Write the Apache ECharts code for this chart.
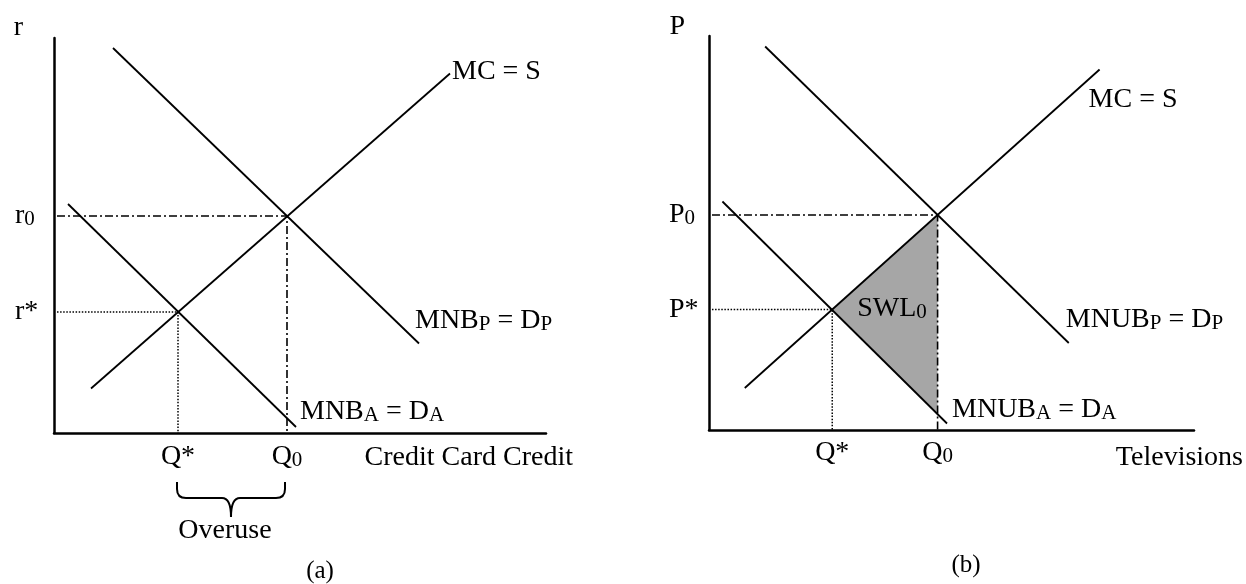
<!DOCTYPE html>
<html><head><meta charset="utf-8">
<script src="https://cdn.jsdelivr.net/npm/echarts@6/dist/echarts.min.js"></script>
<style>html,body{margin:0;padding:0;background:#fff}#c{width:1246px;height:584px}</style>
</head><body><div id="c"></div>
<script>
// ---------- Panel (a): credit card credit ----------
const A_MC = [[7.4, 8.9], [79.2, 71.9]];          // MC = S
const A_MNB_P = [[11.8, 77.0], [73.0, 17.9]];     // MNB_P = D_P
const A_MNB_A = [[2.8, 45.8], [48.4, 1.2]];       // MNB_A = D_A
const A_Q0 = 46.6, A_R0 = 43.4;
const A_QSTAR = 24.8, A_RSTAR = 24.2;
const A_XTICKS = ['Q*', 'Q{s|0}'];
const A_YTICKS = ['r*', 'r{s|0}'];
const A_CURVE_LABELS = ['MC = S', 'MNB{s|P} = D{s|P}', 'MNB{s|A} = D{s|A}'];

// ---------- Panel (b): televisions ----------
const B_MC = [[7.2, 8.4], [78.6, 72.1]];
const B_MNUB_P = [[11.3, 76.7], [72.4, 17.4]];
const B_MNUB_A = [[2.7, 45.7], [47.9, 1.3]];
const B_Q0 = 46.0, B_P0 = 43.0;
const B_QSTAR = 24.8, B_PSTAR = 24.1;
const B_SWL = [[24.8, 24.1], [46.0, 43.0], [46.0, 3.2]];
const B_XTICKS = ['Q*', 'Q{s|0}'];
const B_YTICKS = ['P*', 'P{s|0}'];
const B_CURVE_LABELS = ['MC = S', 'MNUB{s|P} = D{s|P}', 'MNUB{s|A} = D{s|A}'];

const FONT = '"Liberation Serif", "DejaVu Serif", serif';
const FS = 28;
const rich = {
  s: { fontSize: 21, fontFamily: FONT, color: '#000', verticalAlign: 'bottom', lineHeight: 22 }
};
const solid = { color: '#000', width: 1.8, type: 'solid' };
const dashDot = { color: '#000', width: 1.6, type: [8, 3, 2, 3] };
const dotted = { color: '#000', width: 1.5, type: [1.5, 1.6] };

function lineSeries(g, data, style, label, z) {
  const s = {
    type: 'line', xAxisIndex: g, yAxisIndex: g, data: data, symbol: 'none',
    lineStyle: style, silent: true, animation: false, z: z || 3, clip: false
  };
  if (label) {
    s.endLabel = Object.assign({
      show: true, distance: 0, color: '#000', fontFamily: FONT, fontSize: FS, rich: rich
    }, label);
  }
  return s;
}

function xAxisFor(g, max, ticks, vals, margin, name, gap, pad) {
  return {
    type: 'value', gridIndex: g, min: 0, max: max,
    axisLine: { show: true, onZero: false, lineStyle: { color: '#000', width: 2.5 } },
    axisTick: { show: false }, splitLine: { show: false },
    axisLabel: {
      show: true, customValues: vals,
      formatter: v => ticks[vals.indexOf(v)],
      margin: margin, color: '#000', fontFamily: FONT, fontSize: FS, rich: rich
    },
    name: name, nameLocation: 'end', nameGap: gap,
    nameTextStyle: { align: 'right', verticalAlign: 'top', padding: [pad, 0, 0, 0], color: '#000', fontFamily: FONT, fontSize: FS }
  };
}
function yAxisFor(g, max, ticks, vals, name, margin, gap, padR) {
  return {
    type: 'value', gridIndex: g, min: 0, max: max,
    axisLine: { show: true, onZero: false, lineStyle: { color: '#000', width: 2.5 } },
    axisTick: { show: false }, splitLine: { show: false },
    axisLabel: {
      show: true, customValues: vals,
      formatter: v => ticks[vals.indexOf(v)],
      margin: margin, align: 'left', color: '#000', fontFamily: FONT, fontSize: FS, rich: rich
    },
    name: name, nameLocation: 'end', nameGap: gap,
    nameTextStyle: { align: 'right', padding: [0, padR, 0, 0], color: '#000', fontFamily: FONT, fontSize: FS }
  };
}

const chart = echarts.init(document.getElementById('c'), null, { renderer: 'canvas' });
chart.setOption({
  animation: false,
  backgroundColor: '#fff',
  grid: [
    { left: 54, top: 38, width: 492, height: 395 },
    { left: 709, top: 36, width: 488, height: 394 }
  ],
  xAxis: [
    xAxisFor(0, 98.4, A_XTICKS, [A_QSTAR, A_Q0], 10, 'Credit Card Credit', 27, 11),
    xAxisFor(1, 97.6, B_XTICKS, [B_QSTAR, B_Q0], 9, 'Televisions', 49, 14)
  ],
  yAxis: [
    yAxisFor(0, 79, A_YTICKS, [A_RSTAR, A_R0], 'r', 39, -4, 31),
    yAxisFor(1, 78.8, B_YTICKS, [B_PSTAR, B_P0], 'P', 40, -5, 24)
  ],
  graphic: [
    { type: 'text', x: 320, y: 571, style: { text: '(a)', align: 'center', verticalAlign: 'middle', font: '25px ' + FONT, fill: '#000' } },
    { type: 'text', x: 966, y: 565, style: { text: '(b)', align: 'center', verticalAlign: 'middle', font: '25px ' + FONT, fill: '#000' } }
  ],
  series: [
    // panel (a)
    lineSeries(0, [[0.6, A_R0], [A_Q0, A_R0], [A_Q0, 0]], dashDot),
    lineSeries(0, [[0.6, A_RSTAR], [A_QSTAR, A_RSTAR], [A_QSTAR, 0]], dotted),
    lineSeries(0, A_MC, solid, { formatter: A_CURVE_LABELS[0], offset: [2, -2] }),
    lineSeries(0, A_MNB_P, solid, { formatter: A_CURVE_LABELS[1], offset: [-4, -23] }),
    lineSeries(0, A_MNB_A, solid, { formatter: A_CURVE_LABELS[2], offset: [4, -15] }),
    {
      type: 'custom', xAxisIndex: 0, yAxisIndex: 0, data: [0], silent: true, clip: false, z: 3,
      renderItem: function (params, api) {
        const a = api.coord([A_QSTAR, 0]);
        const b = api.coord([A_Q0, 0]);
        const x1 = a[0] - 1, x2 = b[0] - 2, cx = (x1 + x2) / 2;
        const y0 = a[1] + 49, y1 = a[1] + 65, y2 = a[1] + 84, r = 9;
        const d = 'M' + x1 + ' ' + y0 + ' L' + x1 + ' ' + (y1 - r) + ' Q' + x1 + ' ' + y1 + ' ' + (x1 + r) + ' ' + y1 +
          ' L' + (cx - r) + ' ' + y1 + ' Q' + cx + ' ' + y1 + ' ' + cx + ' ' + y2 +
          ' M' + cx + ' ' + y2 + ' Q' + cx + ' ' + y1 + ' ' + (cx + r) + ' ' + y1 +
          ' L' + (x2 - r) + ' ' + y1 + ' Q' + x2 + ' ' + y1 + ' ' + x2 + ' ' + (y1 - r) + ' L' + x2 + ' ' + y0;
        return {
          type: 'group', children: [
            { type: 'path', shape: { pathData: d }, style: { stroke: '#000', lineWidth: 2, fill: null } },
            { type: 'text', x: cx - 6, y: a[1] + 98, style: { text: 'Overuse', align: 'center', verticalAlign: 'middle', font: FS + 'px ' + FONT, fill: '#000' } }
          ]
        };
      }
    },
    // panel (b)
    {
      type: 'custom', xAxisIndex: 1, yAxisIndex: 1, data: [0], silent: true, clip: false, z: 1,
      renderItem: function (params, api) {
        const pts = B_SWL.map(p => api.coord(p));
        return {
          type: 'group', children: [
            { type: 'polygon', shape: { points: pts }, style: { fill: '#a6a6a6', stroke: null } },
            { type: 'text', x: pts[0][0] + 25, y: pts[0][1] - 1, z2: 10,
              style: { text: 'SWL{s|0}', rich: rich, align: 'left', verticalAlign: 'middle', font: FS + 'px ' + FONT, fill: '#000' } }
          ]
        };
      }
    },
    lineSeries(1, [[0.6, B_P0], [B_Q0, B_P0], [B_Q0, 0]], dashDot),
    lineSeries(1, [[0.6, B_PSTAR], [B_QSTAR, B_PSTAR], [B_QSTAR, 0]], dotted),
    lineSeries(1, B_MC, solid, { formatter: B_CURVE_LABELS[0], offset: [-11, 30] }),
    lineSeries(1, B_MNUB_P, solid, { formatter: B_CURVE_LABELS[1], offset: [-3, -23] }),
    lineSeries(1, B_MNUB_A, solid, { formatter: B_CURVE_LABELS[2], offset: [5, -14] })
  ]
});
</script>
</body></html>
